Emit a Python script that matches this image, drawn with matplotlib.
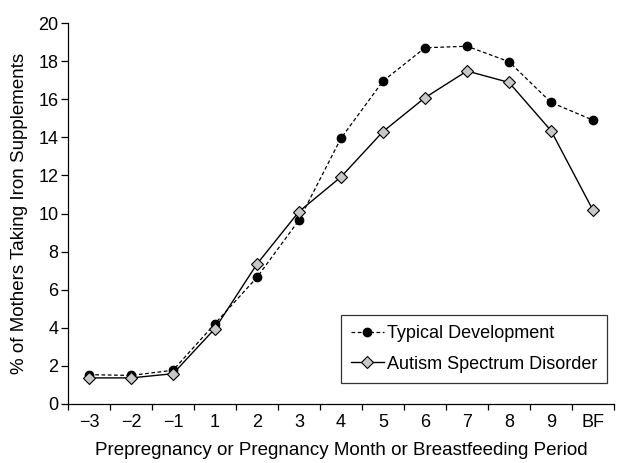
import matplotlib as mpl
mpl.use("Agg")
import matplotlib.pyplot as plt
import numpy as np

# data
months = ["\u22123", "\u22122", "\u22121", "1", "2", "3", "4", "5", "6", "7", "8", "9", "BF"]
typical = [1.54, 1.5, 1.77, 4.22, 6.65, 9.65, 13.95, 16.95, 18.7, 18.78, 17.97, 15.83, 14.9]
autism = [1.37, 1.37, 1.59, 3.96, 7.35, 10.1, 11.92, 14.3, 16.08, 17.48, 16.88, 14.35, 10.17]

mpl.rcParams.update({
    "font.family": ["Liberation Sans", "DejaVu Sans"],
    "font.size": 13,
    "axes.spines.right": False,
    "axes.spines.top": False,
    "axes.linewidth": 0.9,
})

fig = plt.figure(figsize=(6.19, 4.63), dpi=100)
ax = fig.add_axes([68 / 619, 1 - 404 / 463, (614 - 68) / 619, (404 - 23) / 463])

x = np.arange(len(months))
ax.plot(x, typical, linestyle=(0, (3, 2)), color="black", linewidth=0.9,
        marker="o", markersize=6, markerfacecolor="black", markeredgecolor="black",
        label="Typical Development")
ax.plot(x, autism, linestyle="-", color="black", linewidth=1.0,
        marker="D", markersize=6, markerfacecolor="#c8c8c8", markeredgecolor="black",
        markeredgewidth=0.8, label="Autism Spectrum Disorder")

ax.set_xlim(-0.5, len(months) - 0.5)
ax.set_ylim(0, 20)
ax.set_yticks(range(0, 21, 2))
ax.tick_params(axis="y", direction="out", length=5, width=0.9, pad=2, labelsize=13)

ax.set_xticks(x)
ax.set_xticklabels(months)
ax.set_xticks(np.arange(-0.5, len(months) - 0.4, 1), minor=True)
ax.tick_params(axis="x", which="major", length=0, pad=7, labelsize=13)
ax.tick_params(axis="x", which="minor", direction="out", length=4, width=0.9)

ax.set_ylabel("% of Mothers Taking Iron Supplements", fontsize=13.5, labelpad=7)
ax.set_xlabel("Prepregnancy or Pregnancy Month or Breastfeeding Period", fontsize=13.5, labelpad=8)

leg = ax.legend(loc="lower right", bbox_to_anchor=(0.988, 0.056), fontsize=13,
                frameon=True, fancybox=False, edgecolor="black", handlelength=1.8,
                handletextpad=0.2, borderpad=0.55, labelspacing=0.75, borderaxespad=0)
leg.get_frame().set_linewidth(0.9)

fig.savefig("out.png", dpi=100)
